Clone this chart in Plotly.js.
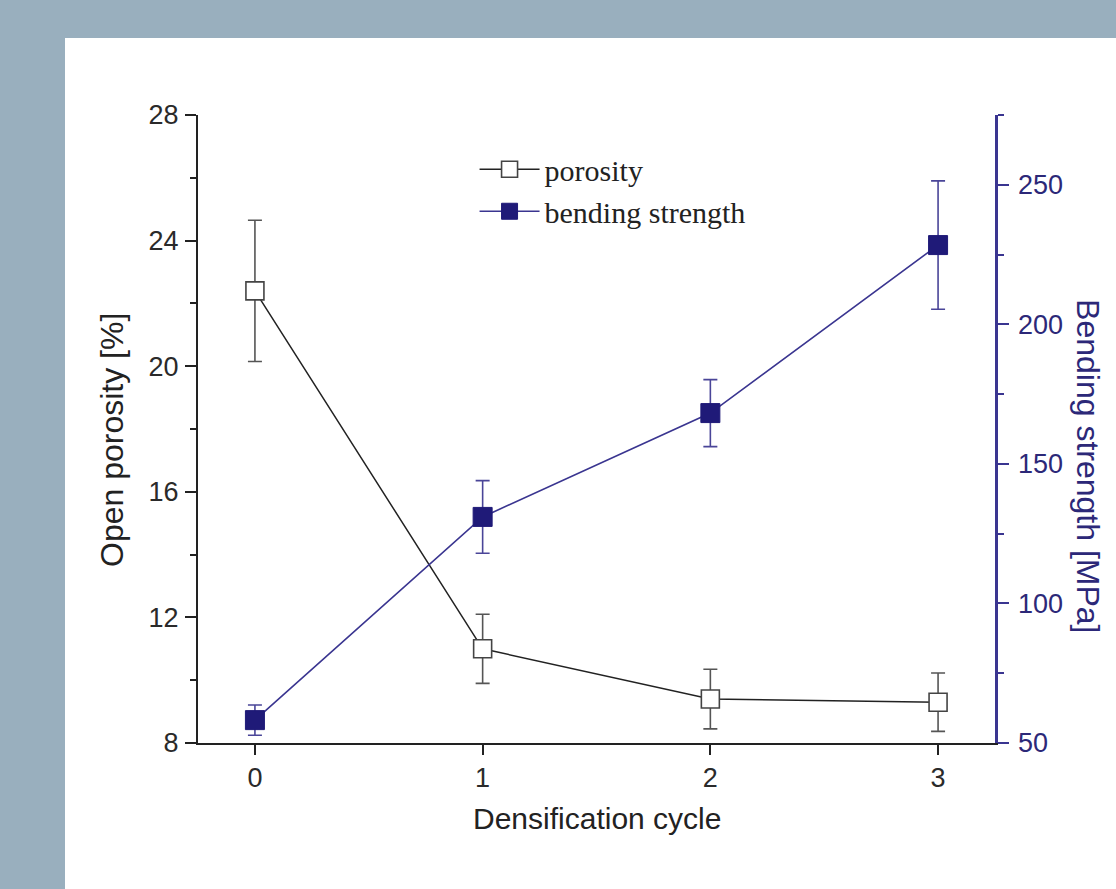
<!DOCTYPE html>
<html>
<head>
<meta charset="utf-8">
<script src="https://cdn.plot.ly/plotly-3.0.1.min.js"></script>
<style>
  html, body { margin: 0; padding: 0; background: #99afbe; width: 1116px; height: 889px; overflow: hidden; }
  #chart { position: absolute; left: 65px; top: 38px; width: 1051px; height: 851px; background: #ffffff; }
</style>
</head>
<body>
<div id="chart"></div>
<script>
// Data
const cycles = [0, 1, 2, 3];
const porosity = [22.4, 11.0, 9.4, 9.3];
const porosityErr = [2.25, 1.1, 0.95, 0.93];
const bending = [58.2, 131, 168.2, 228.4];
const bendingErr = [5.4, 13, 12, 23];

const xTicks = [0, 1, 2, 3];
const yTicks = [8, 12, 16, 20, 24, 28];
const y2Ticks = [50, 100, 150, 200, 250];

const navy = '#1f1a78';
const navyLine = '#3a3590';
const dark = '#222222';

const traces = [
  {
    x: cycles, y: bending, name: 'bending strength', yaxis: 'y2', xaxis: 'x',
    mode: 'lines+markers',
    line: { color: navyLine, width: 1.6 },
    marker: { symbol: 'square', size: 19, color: navy, line: { color: navy, width: 1 } },
    error_y: { type: 'data', array: bendingErr, visible: true, color: '#4a4598', thickness: 1.6, width: 7 }
  },
  {
    x: cycles, y: porosity, name: 'porosity', yaxis: 'y', xaxis: 'x',
    mode: 'lines+markers',
    line: { color: dark, width: 1.5 },
    marker: { symbol: 'square', size: 18, color: '#ffffff', line: { color: '#444444', width: 1.6 } },
    error_y: { type: 'data', array: porosityErr, visible: true, color: '#555555', thickness: 1.6, width: 7 }
  }
];

const tickFont = { family: 'Liberation Sans, Arial, sans-serif', size: 27, color: '#2a2a2a' };

const layout = {
  width: 1051, height: 851,
  margin: { l: 133, r: 121, t: 77, b: 146 },
  paper_bgcolor: '#ffffff', plot_bgcolor: 'rgba(0,0,0,0)',
  showlegend: true,
  legend: {
    x: 0.347, y: 0.955, xanchor: 'left', yanchor: 'top',
    traceorder: 'reversed',
    bgcolor: 'rgba(0,0,0,0)',
    font: { family: 'Liberation Serif, Times New Roman, serif', size: 30, color: '#222222' },
    itemwidth: 60,
    tracegroupgap: 0
  },
  xaxis: {
    range: [-0.25, 3.25], tickvals: xTicks, ticktext: xTicks.map(String),
    ticks: 'outside', ticklen: 10, tickwidth: 2, tickcolor: dark,
    showline: true, linecolor: dark, linewidth: 2,
    showgrid: false, zeroline: false, tickfont: tickFont, ticklabelstandoff: 0
  },
  xaxis2: {
    overlaying: 'x', side: 'top', range: [-0.25, 3.25], tickvals: xTicks,
    ticks: 'inside', ticklen: 10, tickwidth: 2, tickcolor: dark,
    showline: true, linecolor: dark, linewidth: 2,
    showgrid: false, zeroline: false, showticklabels: false
  },
  yaxis: {
    range: [8, 28], tickvals: yTicks,
    ticks: 'outside', ticklen: 11, tickwidth: 2, tickcolor: dark,
    minor: { ticks: 'outside', ticklen: 6, tickwidth: 2, tickcolor: dark, dtick: 2, tick0: 8 },
    showline: true, linecolor: dark, linewidth: 2,
    showgrid: false, zeroline: false, tickfont: tickFont, ticklabelstandoff: 1
  },
  yaxis2: {
    overlaying: 'y', side: 'right', range: [50, 275], tickvals: y2Ticks,
    ticks: 'outside', ticklen: 11, tickwidth: 2, tickcolor: navyLine,
    minor: { ticks: 'outside', ticklen: 6, tickwidth: 2, tickcolor: navyLine, dtick: 25, tick0: 50 },
    showline: true, linecolor: navyLine, linewidth: 2.5,
    showgrid: false, zeroline: false,
    tickfont: { family: 'Liberation Sans, Arial, sans-serif', size: 27, color: '#2c2878' },
    ticklabelstandoff: 4
  },
  annotations: [
    {
      text: 'Densification cycle', xref: 'paper', yref: 'paper', x: 0.5006, y: 0,
      yshift: -75, xanchor: 'center', yanchor: 'middle', showarrow: false,
      font: { family: 'Liberation Sans, Arial, sans-serif', size: 30, color: '#222222' }
    },
    {
      text: 'Open porosity [%]', xref: 'paper', yref: 'paper', x: 0, y: 0.4825,
      xshift: -86, xanchor: 'center', yanchor: 'middle', textangle: -90, showarrow: false,
      font: { family: 'Liberation Sans, Arial, sans-serif', size: 32, color: '#222222' }
    },
    {
      text: 'Bending strength [MPa]', xref: 'paper', yref: 'paper', x: 1, y: 0.441,
      xshift: 93, xanchor: 'center', yanchor: 'middle', textangle: 90, showarrow: false,
      font: { family: 'Liberation Sans, Arial, sans-serif', size: 32, color: '#2c2878' }
    }
  ]
};

Plotly.newPlot('chart', traces, layout, { displayModeBar: false, staticPlot: true });
</script>
</body>
</html>
